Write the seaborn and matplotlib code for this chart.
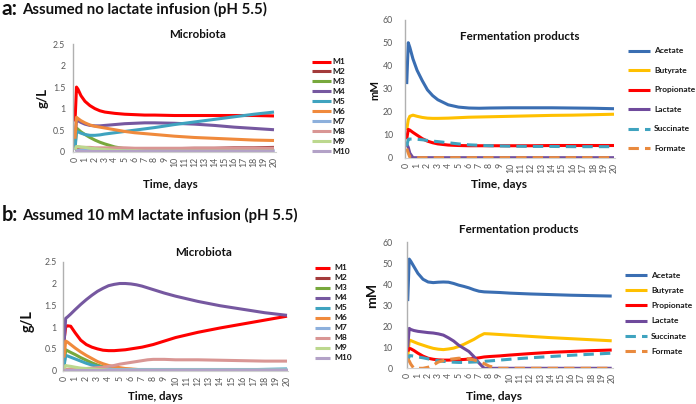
import numpy as np
import pandas as pd
import matplotlib
matplotlib.use("Agg")
import matplotlib.pyplot as plt
import seaborn as sns

# ---------------- data ----------------
ta = [0, 0.15, 0.3, 0.6, 1, 1.5, 2, 2.5, 3, 4, 5, 6, 7, 8, 10, 12, 14, 16, 18, 20]
tb = [0, 0.15, 0.3, 0.6, 1, 1.5, 2, 2.5, 3, 3.5, 4, 4.5, 5, 5.5, 6, 6.5, 7, 7.5, 8, 9, 10, 12, 14, 16, 18, 20]

micro_names = ["M1", "M2", "M3", "M4", "M5", "M6", "M7", "M8", "M9", "M10"]
ferm_names = ["Acetate", "Butyrate", "Propionate", "Lactate", "Succinate", "Formate"]

# panel a, microbiota (g/L)
a_M1 = [0.7, 1.5, 1.45, 1.3, 1.17, 1.07, 1.0, 0.95, 0.92, 0.89, 0.87, 0.86, 0.85, 0.85, 0.84, 0.84, 0.84, 0.84, 0.84, 0.83]
a_M2 = [0.05, 0.06, 0.06, 0.06, 0.06, 0.06, 0.06, 0.06, 0.06, 0.06, 0.06, 0.06, 0.06, 0.07, 0.07, 0.08, 0.08, 0.09, 0.09, 0.10]
a_M3 = [0.1, 0.55, 0.52, 0.46, 0.4, 0.33, 0.27, 0.22, 0.18, 0.11, 0.07, 0.05, 0.04, 0.03, 0.03, 0.02, 0.02, 0.02, 0.02, 0.02]
a_M4 = [0.3, 0.74, 0.72, 0.68, 0.64, 0.61, 0.6, 0.6, 0.61, 0.63, 0.65, 0.66, 0.67, 0.67, 0.66, 0.64, 0.61, 0.57, 0.54, 0.51]
a_M5 = [0.05, 0.46, 0.46, 0.43, 0.4, 0.38, 0.38, 0.39, 0.41, 0.44, 0.47, 0.5, 0.53, 0.56, 0.63, 0.69, 0.75, 0.81, 0.87, 0.92]
a_M6 = [0.3, 0.8, 0.77, 0.72, 0.67, 0.62, 0.59, 0.57, 0.55, 0.51, 0.47, 0.44, 0.42, 0.4, 0.36, 0.33, 0.31, 0.29, 0.27, 0.26]
a_M7 = [0.03, 0.03, 0.03, 0.03, 0.03, 0.03, 0.03, 0.03, 0.03, 0.03, 0.03, 0.03, 0.03, 0.03, 0.03, 0.03, 0.03, 0.03, 0.03, 0.03]
a_M8 = [0.1, 0.11, 0.11, 0.1, 0.1, 0.1, 0.09, 0.09, 0.09, 0.09, 0.09, 0.08, 0.08, 0.08, 0.08, 0.08, 0.08, 0.08, 0.08, 0.08]
a_M9 = [0.05, 0.12, 0.12, 0.11, 0.1, 0.08, 0.07, 0.06, 0.05, 0.03, 0.02, 0.02, 0.01, 0.01, 0.01, 0.01, 0.01, 0.01, 0.01, 0.01]
a_M10 = [0.02, 0.02, 0.02, 0.02, 0.02, 0.02, 0.02, 0.02, 0.02, 0.02, 0.02, 0.02, 0.02, 0.02, 0.02, 0.02, 0.02, 0.02, 0.02, 0.02]

# panel a, fermentation products (mM)
a_acetate = [32, 50, 48, 43, 38, 33.5, 29.5, 27, 25.2, 23, 22, 21.6, 21.5, 21.6, 21.7, 21.7, 21.7, 21.6, 21.5, 21.3]
a_butyrate = [12, 16.5, 18, 18.5, 18.0, 17.5, 17.2, 17.1, 17.1, 17.2, 17.4, 17.6, 17.7, 17.8, 18.0, 18.2, 18.4, 18.5, 18.7, 18.9]
a_propionate = [8, 12.3, 12.0, 11, 9.8, 8.3, 7.2, 6.5, 6.0, 5.5, 5.3, 5.2, 5.2, 5.2, 5.2, 5.2, 5.3, 5.3, 5.3, 5.3]
a_lactate = [6, 4.5, 2, 0, 0, 0, 0, 0, 0, 0, 0, 0, 0, 0, 0, 0, 0, 0, 0, 0]
a_succinate = [5, 8, 8.1, 8.1, 8.0, 7.8, 7.5, 7.2, 7.0, 6.5, 6.0, 5.6, 5.4, 5.2, 5.0, 4.9, 4.9, 4.8, 4.8, 4.8]
a_formate = [4, 2, 0.3, 0, 0, 0, 0, 0, 0, 0, 0, 0, 0, 0, 0, 0, 0, 0, 0, 0]

# panel b, microbiota (g/L)
b_M1 = [0.7, 1.0, 1.03, 1.02, 0.87, 0.7, 0.6, 0.54, 0.5, 0.47, 0.46, 0.46, 0.47, 0.48, 0.5, 0.52, 0.54, 0.57, 0.6, 0.68, 0.76, 0.88, 0.98, 1.07, 1.16, 1.25]
b_M2 = [0.02] * 26
b_M3 = [0.1, 0.48, 0.46, 0.42, 0.37, 0.3, 0.24, 0.18, 0.13, 0.09, 0.06, 0.05, 0.04, 0.03, 0.03, 0.02, 0.02, 0.02, 0.02, 0.02, 0.02, 0.02, 0.02, 0.02, 0.02, 0.02]
b_M4 = [0.6, 1.2, 1.23, 1.3, 1.4, 1.52, 1.63, 1.73, 1.82, 1.89, 1.95, 1.98, 2.0, 2.0, 1.99, 1.97, 1.94, 1.9, 1.86, 1.78, 1.71, 1.59, 1.49, 1.41, 1.33, 1.27]
b_M5 = [0.1, 0.35, 0.34, 0.31, 0.27, 0.22, 0.17, 0.13, 0.1, 0.07, 0.05, 0.04, 0.03, 0.02, 0.02, 0.02, 0.02, 0.02, 0.02, 0.02, 0.02, 0.02, 0.02, 0.02, 0.03, 0.04]
b_M6 = [0.3, 0.68, 0.66, 0.6, 0.52, 0.43, 0.35, 0.28, 0.21, 0.16, 0.12, 0.09, 0.07, 0.05, 0.04, 0.03, 0.02, 0.02, 0.02, 0.02, 0.02, 0.02, 0.02, 0.02, 0.02, 0.02]
b_M7 = [0.03] * 26
b_M8 = [0.03, 0.03, 0.03, 0.04, 0.04, 0.05, 0.05, 0.06, 0.07, 0.08, 0.1, 0.12, 0.15, 0.17, 0.19, 0.21, 0.23, 0.25, 0.26, 0.26, 0.25, 0.25, 0.24, 0.23, 0.22, 0.22]
b_M9 = [0.05, 0.12, 0.11, 0.1, 0.08, 0.06, 0.05, 0.04, 0.03, 0.02, 0.01, 0.01, 0.01, 0.01, 0.01, 0.01, 0.01, 0.01, 0.01, 0.01, 0.01, 0.01, 0.01, 0.01, 0.01, 0.01]
b_M10 = [0.02] * 26

# panel b, fermentation products (mM)
b_acetate = [32, 52, 51, 48.5, 45.2, 42.4, 41.1, 40.8, 41.0, 41.1, 41.0, 40.4, 39.6, 39.0, 38.3, 37.4, 36.7, 36.4, 36.3, 36.1, 35.8, 35.4, 35.1, 34.8, 34.6, 34.4]
b_butyrate = [5, 13.5, 13.2, 12.6, 11.8, 11.0, 10.2, 9.5, 9.1, 8.9, 9.2, 9.6, 10.4, 11.4, 12.6, 13.8, 15.3, 16.5, 16.4, 16.1, 15.8, 15.2, 14.6, 14.1, 13.6, 13.1]
b_propionate = [8, 9.5, 9.3, 8.5, 7.2, 5.8, 4.8, 4.3, 4.0, 3.9, 3.9, 4.0, 4.1, 4.2, 4.4, 4.7, 5.0, 5.4, 5.6, 5.9, 6.3, 7.0, 7.6, 8.0, 8.4, 8.7]
b_lactate = [10, 19, 18.5, 18, 17.6, 17.3, 17.0, 16.8, 16.4, 15.8, 14.5, 13, 11, 9.5, 8.0, 5.5, 2.5, 0, 0, 0, 0, 0, 0, 0, 0, 0]
b_succinate = [3, 6, 6, 5.8, 5.4, 5.0, 4.5, 4.0, 3.6, 3.3, 3.1, 2.9, 2.8, 2.8, 2.9, 3.0, 3.1, 3.3, 3.5, 3.9, 4.3, 5.0, 5.6, 6.2, 6.7, 7.2]
b_formate = [4.5, 3.5, 2.0, 0, 0, 0, 0.5, 1.5, 3.0, 3.7, 4.2, 4.5, 4.8, 4.7, 4.5, 4.0, 3.2, 2.2, 1.0, 0, 0, 0, 0, 0, 0, 0]

micro_ticks = [0, 0.5, 1, 1.5, 2, 2.5]
micro_ticklabels = ["0", "0.5", "1", "1.5", "2", "2.5"]
ferm_ticks = [0, 10, 20, 30, 40, 50, 60]
ferm_ticklabels = ["0", "10", "20", "30", "40", "50", "60"]
day_ticks = list(range(0, 21))

# ---------------- styling ----------------
micro_colors = ["#FF0000", "#A33B3B", "#77A83C", "#7658A0", "#3FA3BF",
                "#F08A3C", "#8DB0DC", "#D99694", "#BCD88E", "#B3A2C7"]
ferm_colors = ["#3A6EB2", "#FFC000", "#FF0000", "#6F4A9C", "#3FA3BF", "#E98A3E"]
ferm_dashed = [False, False, False, False, True, True]

sns.set_theme(style="white")
plt.rcParams["font.family"] = ["Lato", "DejaVu Sans"]

W, H = 696, 404
fig = plt.figure(figsize=(W / 100, H / 100), dpi=100)
renderer = fig.canvas.get_renderer()


def make_axes(x_left, x_right, x_t0, x_t20, y_top, y_bot, ymax):
    ax = fig.add_axes([x_left / W, 1 - y_bot / H, (x_right - x_left) / W, (y_bot - y_top) / H])
    ppd = (x_t20 - x_t0) / 20
    ax.set_xlim(-(x_t0 - x_left) / ppd, 20 + (x_right - x_t20) / ppd)
    ax.set_ylim(0, ymax)
    return ax


def style_axes(ax, yticks, yticklabels, ypad):
    ax.set_yticks(yticks)
    ax.set_yticklabels(yticklabels)
    ax.set_xticks(day_ticks)
    ax.set_xticklabels([str(d) for d in day_ticks], rotation=90)
    ax.tick_params(axis="y", length=0, pad=ypad, labelsize=6.3, labelcolor="#595959")
    ax.tick_params(axis="x", length=0, pad=3.5, labelsize=6.3, labelcolor="#595959")
    for s in ["top", "right"]:
        ax.spines[s].set_visible(False)
    ax.spines["left"].set_color("#B0B0B0")
    ax.spines["left"].set_linewidth(1.0)
    ax.spines["bottom"].set_color("#D0D0D0")
    ax.spines["bottom"].set_linewidth(0.8)
    ax.set_xlabel("")
    ax.set_ylabel("")
    ax.grid(False)
    ax.set_facecolor("none")


def plot_series(ax, t, values, names, colors, dashed=None):
    for i, (name, vals) in enumerate(zip(names, values)):
        sns.lineplot(x=t, y=vals, ax=ax, color=colors[i], linewidth=2.2, legend=False)
        ln = ax.get_lines()[-1]
        ln.set_solid_capstyle("butt")
        if dashed is not None and dashed[i]:
            ln.set_dashes((3.4, 2.0))


def place_legend(ax, labels, x_line, y_first, spacing, fs, hl_px, gap_px):
    handles = ax.get_lines()[:len(labels)]
    fs_px = fs * 100 / 72
    ls = 0.2
    ytop = y_first - fs_px * 0.7
    for _ in range(4):
        leg = ax.legend(handles, labels, loc="upper left",
                        bbox_to_anchor=(x_line / W, 1 - ytop / H),
                        bbox_transform=fig.transFigure, frameon=False,
                        prop={"weight": "bold", "size": fs},
                        handlelength=hl_px / fs_px, handletextpad=gap_px / fs_px,
                        labelspacing=ls, borderpad=0, borderaxespad=0,
                        handleheight=0.5)
        fig.canvas.draw()
        texts = leg.get_texts()
        c0 = texts[0].get_window_extent(renderer)
        c1 = texts[-1].get_window_extent(renderer)
        y0 = H - (c0.y0 + c0.y1) / 2
        y1 = H - (c1.y0 + c1.y1) / 2
        act = (y1 - y0) / (len(labels) - 1)
        ls = max(0.0, ls + (spacing - act) / fs_px)
        ytop += (y_first - y0)
    for tx in leg.get_texts():
        tx.set_color("#1A1A1A")
    return leg


def fit_text(x, y, s, target, dim="w", ha="center", **kw):
    t = fig.text(x / W, 1 - y / H, s, ha=ha, va="center", **kw)
    for _ in range(3):
        bb = t.get_window_extent(renderer)
        cur = bb.width if dim == "w" else bb.height
        t.set_fontsize(t.get_fontsize() * target / cur)
    return t


# ---------------- panel a ----------------
ax1 = make_axes(73, 276, 75, 274, 44, 151.7, 2.5)
plot_series(ax1, ta, [a_M1, a_M2, a_M3, a_M4, a_M5, a_M6, a_M7, a_M8, a_M9, a_M10], micro_names, micro_colors)
style_axes(ax1, micro_ticks, micro_ticklabels, 5.5)

ax2 = make_axes(405, 615, 406.7, 614, 19.7, 157.7, 60)
plot_series(ax2, ta, [a_acetate, a_butyrate, a_propionate, a_lactate, a_succinate, a_formate],
            ferm_names, ferm_colors, ferm_dashed)
style_axes(ax2, ferm_ticks, ferm_ticklabels, 8.5)

# ---------------- panel b ----------------
ax3 = make_axes(63, 288, 64, 287, 261.7, 370.7, 2.5)
plot_series(ax3, tb, [b_M1, b_M2, b_M3, b_M4, b_M5, b_M6, b_M7, b_M8, b_M9, b_M10], micro_names, micro_colors)
style_axes(ax3, micro_ticks, micro_ticklabels, 4.5)

ax4 = make_axes(406.7, 613, 407.7, 611.7, 242.3, 368.3, 60)
plot_series(ax4, tb, [b_acetate, b_butyrate, b_propionate, b_lactate, b_succinate, b_formate],
            ferm_names, ferm_colors, ferm_dashed)
style_axes(ax4, ferm_ticks, ferm_ticklabels, 10)

fig.canvas.draw()

# legends
place_legend(ax1, micro_names, 312, 61.7, 9.93, 6.0, 19, 1.5)
place_legend(ax2, ferm_names, 628, 50.7, 19.5, 6.0, 22, 4)
place_legend(ax3, micro_names, 315, 267.7, 10.0, 6.0, 15, 4)
place_legend(ax4, ferm_names, 625, 275, 15.3, 6.0, 22, 4)

# titles & labels
bold = dict(fontweight="bold", color="#111111")
fit_text(198, 34, "Microbiota", 57, **bold)
fit_text(520, 37, "Fermentation products", 120, **bold)
fit_text(204, 252, "Microbiota", 57, **bold)
fit_text(519, 230, "Fermentation products", 120, **bold)

fit_text(170, 185, "Time, days", 55, **bold)
fit_text(499, 185, "Time, days", 56, **bold)
fit_text(155, 397, "Time, days", 55, **bold)
fit_text(494, 397, "Time, days", 56, **bold)

fit_text(43, 98, "g/L", 20, dim="h", rotation=90, **bold)
fit_text(375, 90, "mM", 20, dim="h", rotation=90, **bold)
fit_text(28, 321, "g/L", 22, dim="h", rotation=90, **bold)
fit_text(372, 295, "mM", 25, dim="h", rotation=90, **bold)

# headers
fit_text(2, 9, "a:", 16, ha="left", **bold)
fit_text(22, 9, "Assumed no lactate infusion (pH 5.5)", 245, ha="left", **bold)
fit_text(2, 215, "b:", 16, ha="left", **bold)
fit_text(22, 215, "Assumed 10 mM lactate infusion (pH 5.5)", 276, ha="left", **bold)

fig.savefig("out.png", dpi=100)
